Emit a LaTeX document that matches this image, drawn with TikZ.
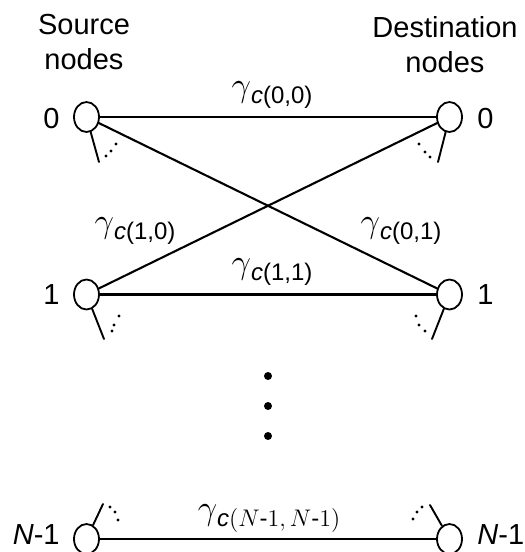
\documentclass[tikz,border=0pt]{standalone}
\usepackage{amsmath}
\usepackage{fontspec}
\setmainfont{Liberation Sans}
\usepackage{tikz}
\usetikzlibrary{shapes.geometric}

\newcommand{\chanlab}[1]{$\gamma$\raisebox{-3.5pt}{\fontsize{12}{14}\selectfont\textit{c}(#1)}}
\newcommand{\chanlabN}{$\gamma$\raisebox{-3.5pt}{\fontsize{12}{14}\selectfont\textit{c}$(N\text{-}1,N\text{-}1)$}}

\tikzset{
  endpt/.style={draw, ellipse, line width=0.9pt, inner sep=0pt,
    minimum width=12.5pt, minimum height=15pt},
  link/.style={line width=1.05pt},
  stub/.style={line width=0.95pt},
  idx/.style={inner sep=0pt, font=\fontsize{14.5}{17}\selectfont},
  title/.style={inner sep=0pt, align=center, font=\fontsize{14.5}{17.5}\selectfont},
  gain/.style={inner sep=0pt, font=\fontsize{16.5}{18}\selectfont},
}

\begin{document}
\begin{tikzpicture}[x=0.5pt,y=-0.5pt,line cap=round]
  \useasboundingbox (0,0) rectangle (525,552);

  % column titles
  \node[title, anchor=north] (srctitle) at (84,14) {Source\\nodes};
  \node[title, anchor=north] (dsttitle) at (445,16) {Destination\\nodes};

  % source and destination nodes
  \node[endpt] (s0) at (86.5,117) {};
  \node[endpt] (s1) at (86.5,294.5) {};
  \node[endpt] (sN) at (86.5,539) {};
  \node[endpt] (d0) at (449.5,117) {};
  \node[endpt] (d1) at (449.5,294.5) {};
  \node[endpt] (dN) at (449.5,539) {};

  \node[idx, anchor=east] (s0lab) at (60,119) {0};
  \node[idx, anchor=east] (s1lab) at (60,295) {1};
  \node[idx, anchor=east] (sNlab) at (60,535) {\textit{N}-1};
  \node[idx, anchor=west] (d0lab) at (477,119) {0};
  \node[idx, anchor=west] (d1lab) at (477,295) {1};
  \node[idx, anchor=west] (dNlab) at (477,535) {\textit{N}-1};

  % links
  \draw[link] (s0) -- (d0);
  \draw[link] (s0) -- (d1);
  \draw[link] (s1) -- (d0);
  \draw[link] (s1) -- (d1);
  \draw[link] (sN) -- (dN);

  \node[gain] (g00) at (272,95) {\chanlab{0,0}};
  \node[gain] (g10) at (135,231) {\chanlab{1,0}};
  \node[gain] (g01) at (401,231) {\chanlab{0,1}};
  \node[gain] (g11) at (272,272) {\chanlab{1,1}};
  \node[gain] (gNN) at (269,519) {\chanlabN};

  % other links, only hinted
  \coordinate (s0end) at (99,162);
  \coordinate (s1end) at (104,339);
  \coordinate (sNend) at (103,504);
  \coordinate (d0end) at (438,162);
  \coordinate (d1end) at (432,339);
  \coordinate (dNend) at (430,505);
  \draw[stub] (s0) -- (s0end);
  \draw[stub] (s1) -- (s1end);
  \draw[stub] (sN) -- (sNend);
  \draw[stub] (d0) -- (d0end);
  \draw[stub] (d1) -- (d1end);
  \draw[stub] (dN) -- (dNend);
  \foreach \x/\y in {106/156, 111/151, 116/144,
                     112/331, 114/325, 119/316,
                     110/507, 115/512, 118/520,
                     419/144, 425/152, 430/157,
                     416/316, 419/325, 425/331,
                     413/519, 417/512, 422/507}
    \fill (\x,\y) circle (0.85pt);

  % more nodes in between
  \foreach \y in {376,406,436}
    \fill (268,\y) circle (2pt);
\end{tikzpicture}
\end{document}
